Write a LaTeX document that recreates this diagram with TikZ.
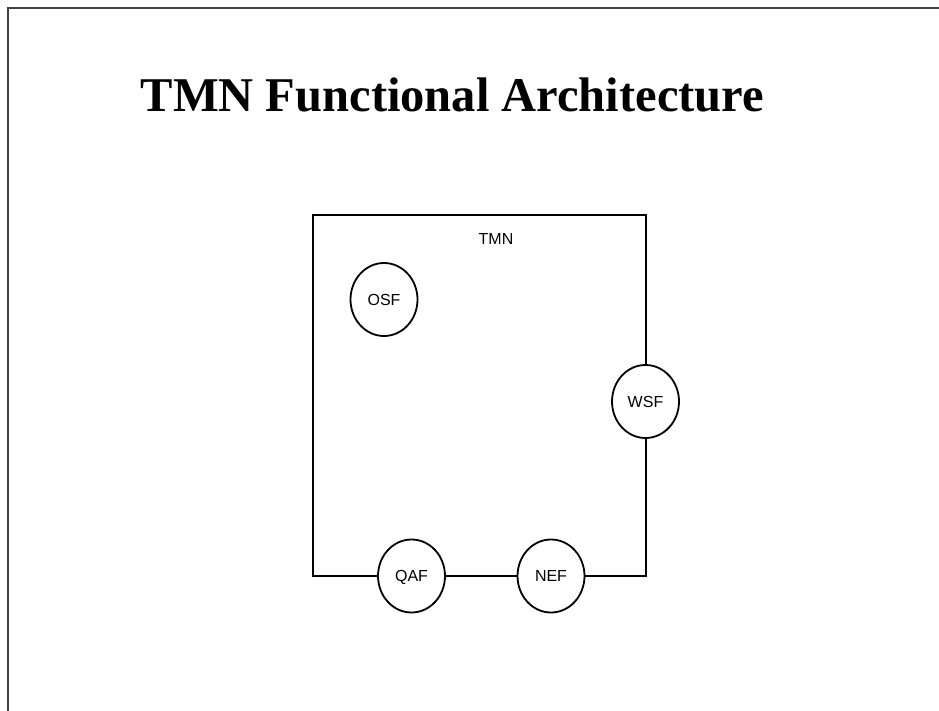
\documentclass[tikz,border=0pt]{standalone}
\usepackage{fontspec}
\setmainfont{Liberation Serif}
\newfontfamily\arialfont{Liberation Sans}
\usetikzlibrary{shapes.geometric}
\begin{document}
\begin{tikzpicture}[x=1pt,y=-1pt,
  lbl/.style={font=\arialfont\fontsize{16}{19}\selectfont},
  fn/.style={draw,ellipse,line width=1.8pt,minimum width=67pt,minimum height=73pt,inner sep=0pt,lbl,text height=11.5pt,text depth=0pt},
  wire/.style={line width=2pt},
  frame/.style={line width=1.8pt,draw=black!75}]
\useasboundingbox (0,0) rectangle (939,711);
% page frame (top and left edges)
\draw[frame] (939,8) -- (8,8) -- (8,711);
% title
\node[anchor=base west,inner sep=0pt,font=\fontsize{48.5}{58}\selectfont\bfseries] (title) at (140.5,111.5) {TMN Functional Architecture};
% function blocks
\node[fn] (osf) at (384,299.5) {OSF};
\node[fn] (wsf) at (645.5,401.5) {WSF};
\node[fn] (qaf) at (411.5,576) {QAF};
\node[fn] (nef) at (551,576) {NEF};
% TMN boundary corners
\coordinate (bl) at (312.5,576);
\coordinate (tl) at (312.5,215.5);
\coordinate (tr) at (645.5,215.5);
\coordinate (br) at (645.5,576);
\node[lbl] (tmn) at (496,239) {TMN};
\draw[wire] (qaf.west) -- (bl) -- (tl) -- (tr) -- (wsf.north);
\draw[wire] (wsf.south) -- (br) -- (nef.east);
\draw[wire] (qaf.east) -- (nef.west);
\end{tikzpicture}
\end{document}
